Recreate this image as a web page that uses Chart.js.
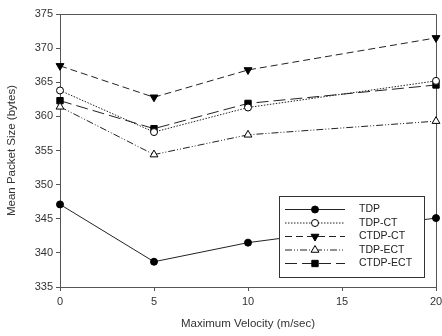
<!DOCTYPE html>
<html>
<head>
<meta charset="utf-8">
<script src="https://cdn.jsdelivr.net/npm/chart.js@4"></script>
<style>
  html, body { margin: 0; padding: 0; background: #fff; }
</style>
</head>
<body>
<canvas id="grafico" width="442" height="336"></canvas>
<script>
// Dados
const velocidades = [0, 5, 10, 20];
const tdp     = [347.1, 338.7, 341.5, 345.1];
const tdpCt   = [363.8, 357.7, 361.3, 365.2];
const ctdpCt  = [367.4, 362.8, 366.8, 371.5];
const tdpEct  = [361.4, 354.4, 357.3, 359.3];
const ctdpEct = [362.3, 358.2, 361.9, 364.6];
const xTicks = [0, 5, 10, 15, 20];
const yTicks = [335, 340, 345, 350, 355, 360, 365, 370, 375];

const fonte = "'Liberation Sans', Arial, sans-serif";
const cor = '#222';

function pontos(valores) {
    return velocidades.map((v, i) => ({ x: v, y: valores[i] }));
}

function serie(label, valores, dash, estilo, preenchido, raio, rotacao) {
    return {
        label: label,
        data: pontos(valores),
        borderColor: cor,
        borderWidth: 1,
        borderDash: dash,
        pointStyle: estilo,
        pointRadius: raio,
        pointRotation: rotacao || 0,
        pointBorderColor: '#000',
        pointBorderWidth: 1,
        pointBackgroundColor: preenchido ? '#000' : '#fff',
        tension: 0,
        clip: false
    };
}

// Legenda desenhada dentro da área do gráfico
const legendaInterna = {
    id: 'legendaInterna',
    afterDraw(chart) {
        const ctx = chart.ctx;
        const x0 = 279, y0 = 196, w = 145, h = 81;
        ctx.save();
        ctx.fillStyle = '#fff';
        ctx.fillRect(x0, y0, w, h);
        ctx.strokeStyle = '#333';
        ctx.lineWidth = 1;
        ctx.strokeRect(x0 + 0.5, y0 + 0.5, w, h);
        chart.data.datasets.forEach((ds, i) => {
            const y = 209.5 + i * 13.5;
            ctx.strokeStyle = ds.borderColor;
            ctx.lineWidth = 1;
            ctx.setLineDash(ds.borderDash);
            ctx.beginPath();
            ctx.moveTo(285, y);
            ctx.lineTo(345, y);
            ctx.stroke();
            ctx.setLineDash([]);
            ctx.fillStyle = ds.pointBackgroundColor;
            ctx.strokeStyle = ds.pointBorderColor;
            Chart.helpers.drawPoint(ctx, {
                pointStyle: ds.pointStyle,
                radius: ds.pointRadius,
                rotation: ds.pointRotation,
                borderWidth: 1
            }, 315, y);
            ctx.fillStyle = '#222';
            ctx.font = '10.5px ' + fonte;
            ctx.textBaseline = 'middle';
            ctx.fillText(ds.label, 359, y);
        });
        ctx.restore();
    }
};

// Moldura superior e direita
const moldura = {
    id: 'moldura',
    beforeDatasetsDraw(chart) {
        const a = chart.chartArea;
        const ctx = chart.ctx;
        ctx.save();
        ctx.strokeStyle = '#555';
        ctx.lineWidth = 1;
        ctx.beginPath();
        ctx.moveTo(a.left, a.top + 0.5);
        ctx.lineTo(a.right + 0.5, a.top + 0.5);
        ctx.lineTo(a.right + 0.5, a.bottom);
        ctx.stroke();
        ctx.restore();
    }
};

new Chart(document.getElementById('grafico').getContext('2d'), {
    type: 'line',
    data: {
        datasets: [
            serie('TDP', tdp, [], 'circle', true, 3.5),
            serie('TDP-CT', tdpCt, [1.5, 1.5], 'circle', false, 3.5),
            serie('CTDP-CT', ctdpCt, [7, 4], 'triangle', true, 4.5, 180),
            serie('TDP-ECT', tdpEct, [7, 2, 1, 2, 1, 2], 'triangle', false, 4.5),
            serie('CTDP-ECT', ctdpEct, [12, 5], 'rect', true, 4.5)
        ]
    },
    options: {
        responsive: false,
        animation: false,
        layout: { padding: { top: 14, right: 6, left: 0, bottom: 0 } },
        plugins: {
            legend: { display: false },
            tooltip: { enabled: false }
        },
        scales: {
            x: {
                type: 'linear',
                min: 0,
                max: 20,
                afterBuildTicks(scale) { scale.ticks = xTicks.map(v => ({ value: v })); },
                afterFit(scale) { scale.paddingLeft = 0; scale.paddingRight = 0; scale.height = 49; },
                ticks: { color: '#333', font: { family: fonte, size: 11 }, padding: 4, maxRotation: 0 },
                grid: { drawOnChartArea: false, drawTicks: true, tickLength: 4, color: '#555' },
                border: { color: '#555', width: 1 },
                title: {
                    display: true,
                    text: 'Maximum Velocity (m/sec)',
                    color: '#333',
                    font: { family: fonte, size: 11.5 },
                    padding: { top: 5, bottom: 5 }
                }
            },
            y: {
                min: 335,
                max: 375,
                afterBuildTicks(scale) { scale.ticks = yTicks.map(v => ({ value: v })); },
                afterFit(scale) { scale.paddingTop = 0; scale.paddingBottom = 0; scale.width = 60; },
                ticks: { color: '#333', font: { family: fonte, size: 11 }, padding: 3 },
                grid: { drawOnChartArea: false, drawTicks: true, tickLength: 4, color: '#555' },
                border: { color: '#555', width: 1 },
                title: {
                    display: true,
                    text: 'Mean Packet Size (bytes)',
                    color: '#333',
                    font: { family: fonte, size: 11.5 },
                    padding: { top: 5, bottom: 5 }
                }
            }
        }
    },
    plugins: [moldura, legendaInterna]
});
</script>
</body>
</html>
